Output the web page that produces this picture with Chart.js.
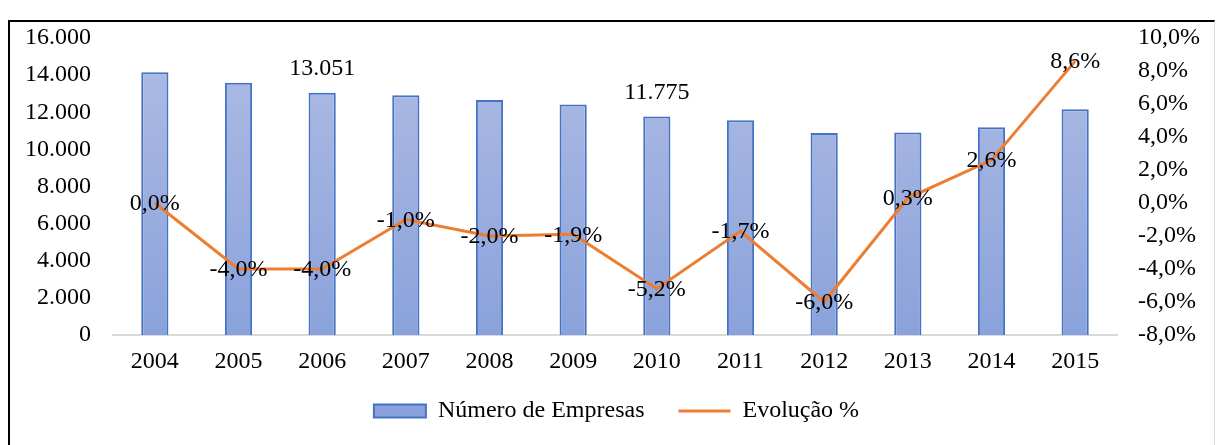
<!DOCTYPE html>
<html lang="pt">
<head>
  <meta charset="UTF-8">
  <title>Número de Empresas Exportadoras</title>
  <script src="https://cdn.jsdelivr.net/npm/chart.js"></script>
  <style>
    html, body { margin: 0; padding: 0; width: 1216px; height: 445px; overflow: hidden; background: #fff; }
    #titulo { position: absolute; left: 6px; top: -25px; font: bold 24px "Liberation Serif", "Times New Roman", serif; line-height: 24px; white-space: nowrap; color: #000; }
    #moldura { position: absolute; left: 8px; top: 20px; width: 1204px; height: 440px; border-left: 2px solid #000; border-top: 2px solid #000; border-right: 1px solid #d9d9d9; }
    #grafico { position: absolute; left: 0; top: 0; }
  </style>
</head>
<body>
  <div id="titulo">Gráfico 1 – Número de Empresas Exportadoras Portuguesas, 2004-2015</div>
  <div id="moldura"></div>
  <canvas id="grafico" width="1216" height="445"></canvas>

  <script>
    // Dados
    const anos = ['2004', '2005', '2006', '2007', '2008', '2009', '2010', '2011', '2012', '2013', '2014', '2015'];
    const empresas = [14161, 13595, 13051, 12920, 12662, 12421, 11775, 11575, 10881, 10914, 11198, 12161];
    const evolucao = [0.0, -4.0, -4.0, -1.0, -2.0, -1.9, -5.2, -1.7, -6.0, 0.3, 2.6, 8.6];
    const barrasComRotulo = [2, 6]; // só 2006 e 2010 têm o valor escrito
    const ticksEmpresas = [0, 16000, 2000];   // min, max, passo
    const ticksEvolucao = [-8, 10, 2];

    const fonte = '"Liberation Serif", "Times New Roman", serif';
    const tamanho = 24;

    function fmtNum(v) {
      return String(v).replace(/\B(?=(\d{3})+(?!\d))/g, '.');
    }
    function fmtPct(v) {
      return v.toFixed(1).replace('.', ',') + '%';
    }

    // Rótulos de dados (sem plugin externo)
    const rotulos = {
      id: 'rotulos',
      afterDatasetsDraw(chart) {
        const ctx = chart.ctx;
        ctx.save();
        ctx.font = tamanho + 'px ' + fonte;
        ctx.fillStyle = '#000';
        ctx.textAlign = 'center';
        ctx.textBaseline = 'middle';
        chart.getDatasetMeta(1).data.forEach((pt, i) => {
          ctx.fillText(fmtPct(evolucao[i]), pt.x, pt.y + 1);
        });
        chart.getDatasetMeta(0).data.forEach((barra, i) => {
          if (barrasComRotulo.includes(i)) ctx.fillText(fmtNum(empresas[i]), barra.x, barra.y - 24);
        });
        ctx.restore();
      }
    };

    function degrade(c) {
      const area = c.chart.chartArea;
      if (!area) return '#9aaee0';
      const g = c.chart.ctx.createLinearGradient(0, area.top, 0, area.bottom);
      g.addColorStop(0, '#afbce4');
      g.addColorStop(1, '#8aa2db');
      return g;
    }

    const ctx = document.getElementById('grafico').getContext('2d');
    new Chart(ctx, {
      type: 'bar',
      data: {
        labels: anos,
        datasets: [{
          label: 'Número de Empresas',
          data: empresas,
          backgroundColor: degrade,
          borderColor: '#4472c4',
          borderWidth: 2,
          barPercentage: 0.325,
          categoryPercentage: 1,
          pointStyle: 'rect',
          yAxisID: 'y',
          order: 1
        }, {
          type: 'line',
          label: 'Evolução %',
          data: evolucao,
          borderColor: '#ed7d31',
          backgroundColor: '#ed7d31',
          borderWidth: 3,
          tension: 0,
          pointRadius: 0,
          pointStyle: 'line',
          yAxisID: 'y1',
          order: 0
        }]
      },
      options: {
        responsive: false,
        animation: false,
        layout: { padding: { top: 38, left: 17, right: 0, bottom: 12 } },
        plugins: {
          tooltip: { enabled: false },
          legend: {
            position: 'bottom',
            labels: {
              font: { family: fonte, size: tamanho },
              color: '#000',
              usePointStyle: true,
              pointStyleWidth: 52,
              boxHeight: 13,
              padding: 22,
              sort: (a, b) => a.datasetIndex - b.datasetIndex,
              generateLabels(chart) {
                const itens = Chart.defaults.plugins.legend.labels.generateLabels(chart);
                // um pouco mais de espaço entre as duas entradas
                itens.forEach(it => { if (it.datasetIndex === 0) it.text += '  '; });
                return itens;
              }
            }
          }
        },
        scales: {
          x: {
            offset: true,
            grid: { display: false, drawTicks: false },
            border: { display: true, color: '#d9d9d9', width: 2 },
            ticks: { font: { family: fonte, size: tamanho }, color: '#000', padding: 12 },
            afterFit(s) { s.height = 42; }
          },
          y: {
            position: 'left',
            min: ticksEmpresas[0],
            max: ticksEmpresas[1],
            grid: { display: false, drawTicks: false },
            border: { display: false },
            ticks: { stepSize: ticksEmpresas[2], callback: v => fmtNum(v), font: { family: fonte, size: tamanho }, color: '#000', padding: 22 },
            afterFit(s) { s.width = 96; }
          },
          y1: {
            position: 'right',
            min: ticksEvolucao[0],
            max: ticksEvolucao[1],
            grid: { display: false, drawTicks: false },
            border: { display: false },
            ticks: { stepSize: ticksEvolucao[2], callback: v => fmtPct(v), font: { family: fonte, size: tamanho }, color: '#000', padding: 21 },
            afterFit(s) { s.width = 99; }
          }
        }
      },
      plugins: [rotulos]
    });
  </script>
</body>
</html>
